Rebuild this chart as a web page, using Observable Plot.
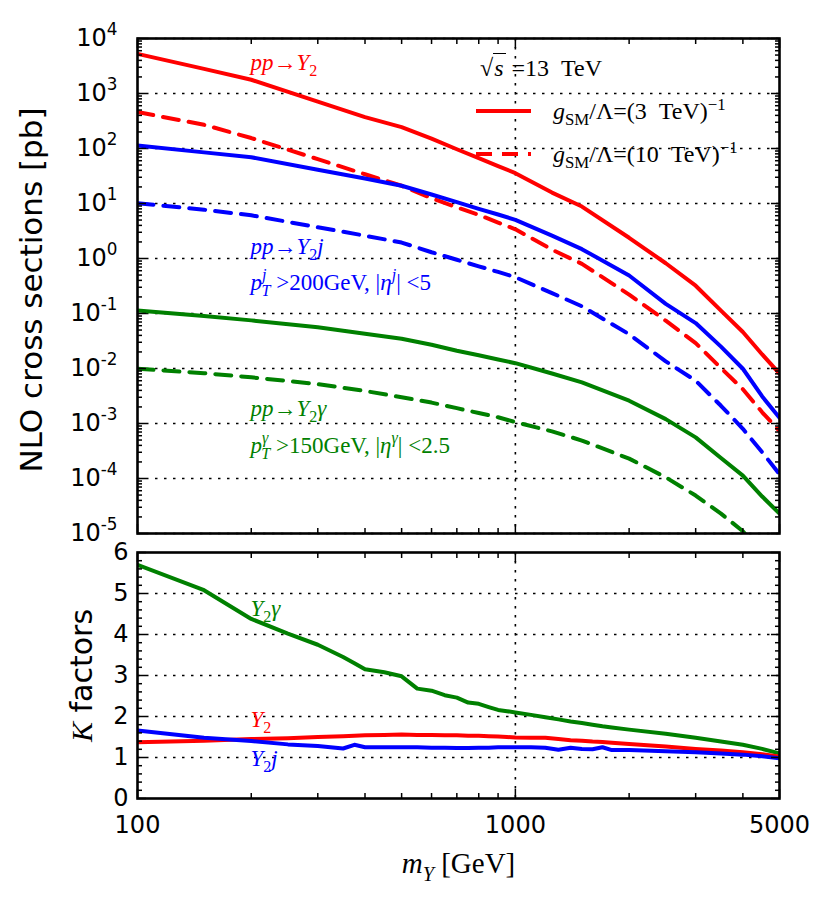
<!DOCTYPE html>
<html><head><meta charset="utf-8">
<script src="https://cdn.jsdelivr.net/npm/d3@7"></script>
<script src="https://cdn.jsdelivr.net/npm/@observablehq/plot@0.6"></script>
<style>
body{margin:0;background:#fff;}
#fig{position:relative;width:831px;height:903px;overflow:hidden;background:#fff;}
.panel{position:absolute;left:0;}
.leg{position:absolute;font-family:"Liberation Serif",serif;font-size:24px;color:#000;white-space:nowrap;line-height:1;}
.leg sub,.leg sup{font-size:70%;line-height:0;}
.row{display:flex;align-items:center;height:43px;}
.row svg{margin-right:22px;}
</style></head><body><div id="fig"></div>
<script>
// ---------------- data ----------------
const mass = [100,150,200,300,400,500,600,700,800,900,1000,1250,1500,2000,2500,3000,3500,4000,4500,5000];
const xsY2_3TeV   = [5250,2800,1780,710,372,244,151,97,67,48,35.6,15.8,8.8,2.38,0.82,0.32,0.113,0.046,0.018,0.0081];
const xsY2_10TeV  = [460,270,155,64,34,21,12.5,8.5,6.2,4.5,3.4,1.45,0.8,0.22,0.074,0.029,0.0102,0.0042,0.0016,0.00073];
const xsY2j_3TeV  = [113,85,69.5,41,28.4,21,14.6,10.6,8.0,6.3,5.05,2.6,1.48,0.49,0.15,0.067,0.025,0.0099,0.0031,0.00127];
const xsY2j_10TeV = [10.1,7.7,6.1,3.7,2.6,1.95,1.3,0.95,0.72,0.57,0.457,0.235,0.135,0.042,0.0135,0.006,0.0021,0.0008,0.0003,0.00012];
const xsY2a_3TeV  = [0.113,0.09,0.075,0.056,0.043,0.0347,0.027,0.021,0.0174,0.0146,0.0125,0.0081,0.0056,0.0026,0.0012,0.00056,0.000236,0.000113,0.000047,0.000023];
const xsY2a_10TeV = [0.0099,0.0082,0.0069,0.0052,0.0039,0.0030,0.0024,0.0019,0.00155,0.0013,0.00106,0.00072,0.00049,0.00023,0.000105,0.000049,0.000023,0.000011,0.0000044,0.000002];

const massK = [100,150,200,250,300,350,375,400,450,500,550,600,650,700,750,800,850,900,950,1000,1100,1200,1300,1400,1500,1600,1700,1800,2000,2500,3000,3500,4000,4500,5000];
const kY2  = [1.37,1.41,1.45,1.47,1.50,1.52,1.53,1.54,1.55,1.56,1.55,1.55,1.54,1.54,1.53,1.53,1.52,1.51,1.50,1.49,1.48,1.48,1.45,1.42,1.41,1.39,1.38,1.36,1.33,1.27,1.21,1.17,1.13,1.08,1.02];
const kY2j = [1.66,1.48,1.40,1.32,1.28,1.22,1.31,1.25,1.25,1.25,1.25,1.24,1.24,1.23,1.23,1.24,1.24,1.25,1.25,1.25,1.25,1.24,1.19,1.24,1.21,1.20,1.25,1.18,1.18,1.15,1.13,1.10,1.07,1.03,0.98];
const kY2a = [5.70,5.08,4.38,4.02,3.75,3.45,3.30,3.15,3.08,2.98,2.68,2.63,2.52,2.46,2.34,2.31,2.23,2.16,2.13,2.10,2.04,1.98,1.93,1.88,1.84,1.80,1.76,1.73,1.68,1.58,1.48,1.39,1.31,1.21,1.10];

const xTickLabels = [100,1000,5000];
const kTickLabels = [0,1,2,3,4,5,6];

// ---------------- helpers ----------------
const RED="#ff0000", BLUE="#0000ff", GREEN="#008000";
const DASH="16,10";
const GRID = {stroke:"#000", strokeOpacity:1, strokeWidth:1.6, strokeDasharray:"2.5,6.5"};
const xMajor=[100,1000,5000];
const xMinor=[200,300,400,500,600,700,800,900,2000,3000,4000];
const yDec=d3.range(-5,5).map(k=>Math.pow(10,k));
const yMinor=[]; for(let k=-5;k<4;k++) for(let j=2;j<10;j++) yMinor.push(j*Math.pow(10,k));
const kMinor=d3.range(0,31).map(i=>i/5).filter(v=>Math.abs(v-Math.round(v))>1e-9);

function rows(xs, ys){ return xs.map((m,i)=>({m, v: ys[i]})); }
function curve(xs, ys, color, dashed){
  return Plot.line(rows(xs,ys), {x:"m", y:"v", stroke:color, strokeWidth:4, strokeDasharray: dashed?DASH:null, strokeLinejoin:"round", clip:true});
}
function inTicks(ax, anchor, ticks, size){
  return ax({anchor, ticks, tickSize:-size, tickFormat:()=>"", strokeWidth:1.5, label:null});
}
function label(key, dx, dy, color, size, extra={}){
  return Plot.text([key], {text:d=>d, frameAnchor:"top-left", dx, dy, textAnchor:"start", lineAnchor:"middle", fill:color, fontSize:size, fontFamily:"Liberation Serif", ...extra});
}
function richify(svg, key, parts, size){
  d3.select(svg).selectAll("text").filter(function(){return this.textContent===key;}).each(function(){
    const t=d3.select(this);
    t.selectAll("*").remove(); t.text("");
    let shift=0;
    for(const [s, flags="", dx=0] of parts){
      const f=flags.split(" ");
      const ts=t.append("tspan").text(s);
      let target=0, fs=size;
      if(f.includes("sub")){target=0.28*size; fs=0.7*size;}
      if(f.includes("sup")){target=-0.45*size; fs=0.7*size;}
      if(target!==shift || dx){ ts.attr("dy", target-shift); shift=target; }
      if(dx) ts.attr("dx", dx);
      ts.attr("font-size", fs);
      if(f.includes("i")) ts.attr("font-style","italic");
      if(f.includes("serif")) ts.attr("font-family","Liberation Serif");
    }
  });
}

const fig=document.getElementById("fig");
const LS=23;

// ---------------- top panel ----------------
const topPlot = Plot.plot({
  width:831, height:545, marginLeft:137, marginRight:52, marginTop:38, marginBottom:12,
  style:{background:"white", fontFamily:"DejaVu Sans", fontSize:"24px", overflow:"visible"},
  x:{type:"log", domain:[100,5000]},
  y:{type:"log", domain:[1e-5,1e4]},
  marks:[
    Plot.gridY(yDec, GRID),
    Plot.gridX([1000], GRID),
    curve(mass, xsY2_3TeV, RED, false),
    curve(mass, xsY2_10TeV, RED, true),
    curve(mass, xsY2j_3TeV, BLUE, false),
    curve(mass, xsY2j_10TeV, BLUE, true),
    curve(mass, xsY2a_3TeV, GREEN, false),
    curve(mass, xsY2a_10TeV, GREEN, true),
    inTicks(Plot.axisX,"bottom",xMajor,9), inTicks(Plot.axisX,"bottom",xMinor,5),
    inTicks(Plot.axisX,"top",xMajor,9), inTicks(Plot.axisX,"top",xMinor,5),
    inTicks(Plot.axisY,"left",yDec,9), inTicks(Plot.axisY,"left",yMinor,5),
    inTicks(Plot.axisY,"right",yDec,9), inTicks(Plot.axisY,"right",yMinor,5),
    Plot.axisY({anchor:"left", ticks:yDec, tickSize:0, tickPadding:20, tickFormat:d=>"10^"+Math.round(Math.log10(d)), fontSize:24, fontFamily:"DejaVu Sans", label:null}),
    Plot.frame({stroke:"#000", strokeWidth:2.6}),
    Plot.text(["NLO cross sections [pb]"], {text:d=>d, frameAnchor:"left", dx:-105, dy:4, rotate:-90, textAnchor:"middle", lineAnchor:"middle", fontSize:31, fontFamily:"DejaVu Sans", fill:"#000"}),
    label("pp→Y2", 113, 24, RED, LS),
    label("pp→Y2j", 113, 208, BLUE, LS),
    label("pTj>200GeV,|ηj|<5", 113, 244, BLUE, LS),
    label("pp→Y2γ", 113, 370, GREEN, LS),
    label("pTγ>150GeV,|ηγ|<2.5", 113, 407, GREEN, LS)
  ]
});
const tw=document.createElement("div"); tw.className="panel"; tw.style.top="0px"; tw.appendChild(topPlot); fig.appendChild(tw);

d3.select(topPlot).selectAll("text").each(function(){
  const s=this.textContent; const m=/^10\^(-?\d+)$/.exec(s);
  if(m) richify(topPlot, s, [["10",""],[m[1],"sup"]], 24);
});
richify(topPlot,"pp→Y2",[["pp","i"],["→",""],["Y","i"],["2","sub"]],LS);
richify(topPlot,"pp→Y2j",[["pp","i"],["→",""],["Y","i"],["2","sub"],["j","i"]],LS);
richify(topPlot,"pp→Y2γ",[["pp","i"],["→",""],["Y","i"],["2","sub"],["γ","i"]],LS);
richify(topPlot,"pTj>200GeV,|ηj|<5",[["p","i"],["j","sup i"],["T","sub i",-5],[" >200GeV, |",""],["η","i"],["j","sup i"],["| <5",""]],LS);
richify(topPlot,"pTγ>150GeV,|ηγ|<2.5",[["p","i"],["γ","sup i"],["T","sub i",-7],[" >150GeV, |",""],["η","i"],["γ","sup i"],["| <2.5",""]],LS);

// ---------------- bottom panel ----------------
const botPlot = Plot.plot({
  width:831, height:358, marginLeft:137, marginRight:52, marginTop:7, marginBottom:105,
  style:{background:"white", fontFamily:"DejaVu Sans", fontSize:"24px", overflow:"visible"},
  x:{type:"log", domain:[100,5000]},
  y:{domain:[0,6]},
  marks:[
    Plot.gridY([1,2,3,4,5], GRID),
    Plot.gridX([1000], GRID),
    curve(massK, kY2a, GREEN, false),
    curve(massK, kY2, RED, false),
    curve(massK, kY2j, BLUE, false),
    inTicks(Plot.axisX,"bottom",xMajor,9), inTicks(Plot.axisX,"bottom",xMinor,5),
    inTicks(Plot.axisX,"top",xMajor,9), inTicks(Plot.axisX,"top",xMinor,5),
    inTicks(Plot.axisY,"left",kTickLabels,9), inTicks(Plot.axisY,"left",kMinor,5),
    inTicks(Plot.axisY,"right",kTickLabels,9), inTicks(Plot.axisY,"right",kMinor,5),
    Plot.axisX({anchor:"bottom", ticks:xTickLabels, tickSize:0, tickPadding:17, tickFormat:d=>String(d), fontSize:24, fontFamily:"DejaVu Sans", label:null}),
    Plot.axisY({anchor:"left", ticks:kTickLabels, tickSize:0, tickPadding:9, tickFormat:d=>String(d), fontSize:24, fontFamily:"DejaVu Sans", label:null}),
    Plot.frame({stroke:"#000", strokeWidth:2.6}),
    Plot.text(["K factors"], {text:d=>d, frameAnchor:"left", dx:-55, rotate:-90, textAnchor:"middle", lineAnchor:"middle", fontSize:30, fontFamily:"DejaVu Sans", fill:"#000"}),
    Plot.text(["mY [GeV]"], {text:d=>d, frameAnchor:"bottom", dy:65, textAnchor:"middle", lineAnchor:"middle", fontSize:29, fontFamily:"Liberation Serif", fill:"#000"}),
    label("Y2γ", 113, 56, GREEN, LS),
    label("Y2", 113, 167, RED, LS),
    label("Y2j", 113, 206, BLUE, LS)
  ]
});
const bw=document.createElement("div"); bw.className="panel"; bw.style.top="545px"; bw.appendChild(botPlot); fig.appendChild(bw);
richify(botPlot,"K factors",[["K","i serif"],[" factors",""]],30);
richify(botPlot,"mY [GeV]",[["m","i"],["Y","sub i"],[" [GeV]",""]],29);
richify(botPlot,"Y2γ",[["Y","i"],["2","sub"],["γ","i"]],LS);
richify(botPlot,"Y2",[["Y","i"],["2","sub"]],LS);
richify(botPlot,"Y2j",[["Y","i"],["2","sub"],["j","i"]],LS);

// ---------------- legend ----------------
const leg=document.createElement("div");
leg.innerHTML = `
<div class="leg" style="left:480px;top:56px">√<span style="border-top:1.5px solid #000;padding:1px 2px 0 1px"><i>s</i></span> =13&nbsp;&nbsp;TeV</div>
<div class="leg" style="left:476px;top:89px">
  <div class="row"><svg width="55" height="8"><line x1="0" x2="55" y1="4" y2="4" stroke="${RED}" stroke-width="4"/></svg><span><i>g</i><sub>SM</sub>/Λ=(3&nbsp;&nbsp;TeV)<sup>−1</sup></span></div>
  <div class="row"><svg width="55" height="8"><line x1="0" x2="55" y1="4" y2="4" stroke="${RED}" stroke-width="4" stroke-dasharray="${DASH}"/></svg><span><i>g</i><sub>SM</sub>/Λ=(10&nbsp;&nbsp;TeV)<sup>−1</sup></span></div>
</div>`;
fig.appendChild(leg);
</script></body></html>
